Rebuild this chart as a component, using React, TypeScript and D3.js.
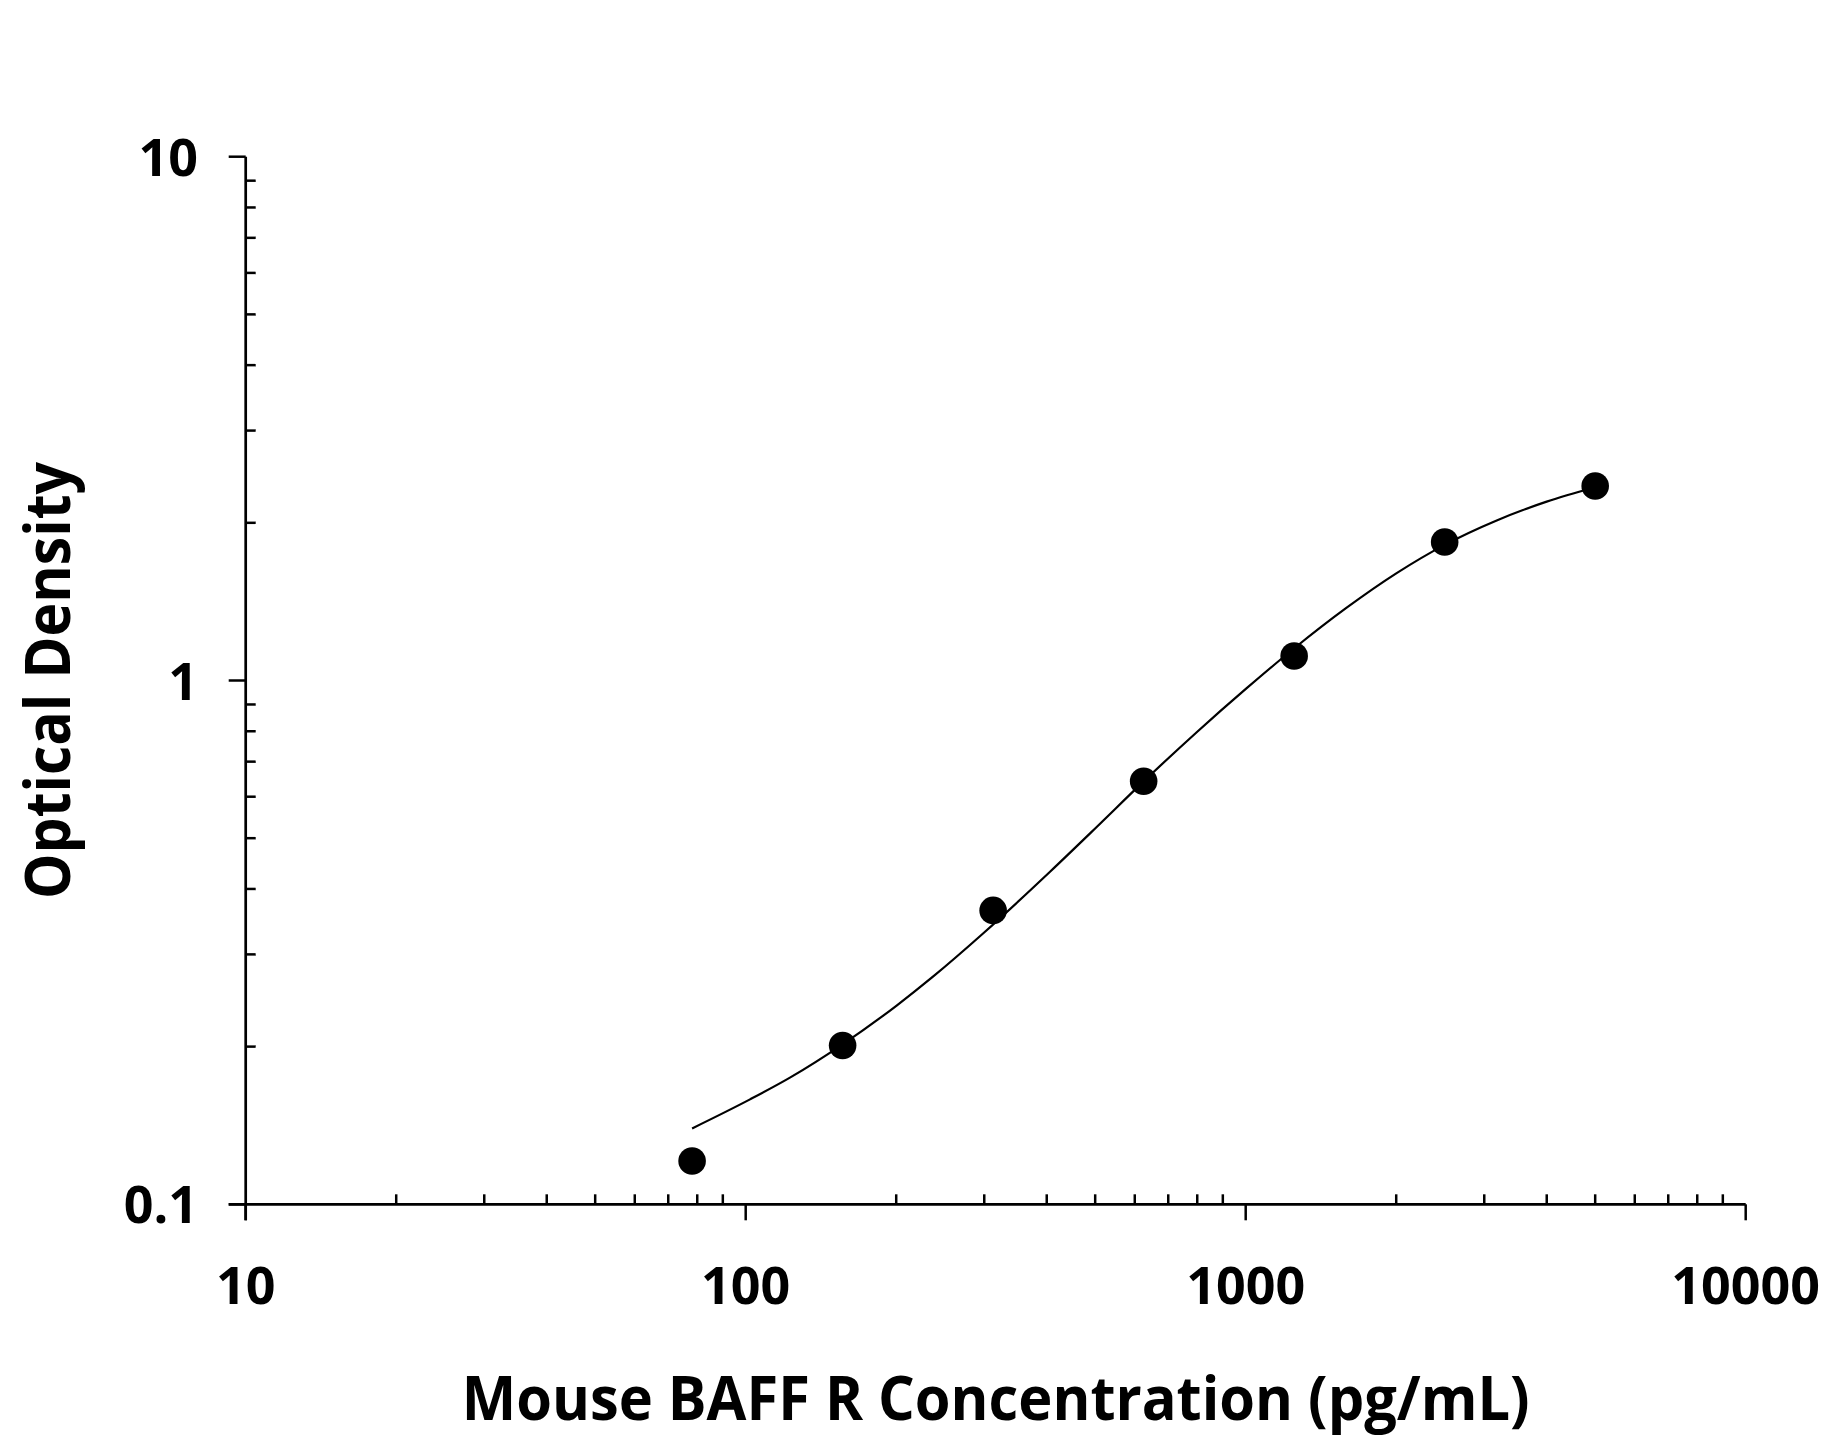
import React from "react";
import * as d3 from "d3";

const concentrations = [78.125, 156.25, 312.5, 625, 1250, 2500, 5000];
const odValues = [0.121, 0.201, 0.364, 0.642, 1.114, 1.838, 2.351];

const curveConc = [78.125, 102, 122.6, 156.25, 200.4, 237.2, 298.7, 406.1, 503.5, 625, 798, 1004.6, 1249, 1592, 2004, 2500, 3177, 3999, 5000];
const curveOD = [0.1396, 0.1586, 0.1745, 0.202, 0.2396, 0.2723, 0.3292, 0.4314, 0.5252, 0.6417, 0.7967, 0.9667, 1.151, 1.377, 1.603, 1.815, 2.021, 2.195, 2.338];

const xMajorTicks = [10, 100, 1000, 10000];
const xTickLabels = ["10", "100", "1000", "10000"];
const yMajorTicks = [0.1, 1, 10];
const yTickLabels = ["0.1", "1", "10"];
const minorMultipliers = [2, 3, 4, 5, 6, 7, 8, 9];

const xTitle = "Mouse BAFF R Concentration (pg/mL)";
const yTitle = "Optical Density";

const W = 1827;
const H = 1444;
const X0 = 245.7;
const X1 = 1745.7;
const Y0 = 1204.3;
const Y1 = 156.7;
const FONT = "'Open Sans', 'Noto Sans', sans-serif";

export default function App() {
  const x = d3.scaleLog().domain([10, 10000]).range([X0, X1]);
  const y = d3.scaleLog().domain([0.1, 10]).range([Y0, Y1]);

  const xMinor: number[] = [];
  [10, 100, 1000].forEach((b) => minorMultipliers.forEach((m) => xMinor.push(b * m)));
  const yMinor: number[] = [];
  [0.1, 1].forEach((b) => minorMultipliers.forEach((m) => yMinor.push(b * m)));

  const line = d3
    .line<number>()
    .x((_, i) => x(curveConc[i]))
    .y((d) => y(d))
    .curve(d3.curveMonotoneX);

  const axisW = 2.7;
  const tickW = 2.5;

  return (
    <svg
      width={W}
      height={H}
      style={{ position: "absolute", left: 0, top: 0, background: "#fff" }}
      fontFamily={FONT}
    >
      <rect x={0} y={0} width={W} height={H} fill="#fff" />
      {/* axes */}
      <line x1={X0} y1={Y0 + 16} x2={X0} y2={Y1} stroke="#000" strokeWidth={axisW} />
      <line x1={X0 - 17} y1={Y0} x2={X1} y2={Y0} stroke="#000" strokeWidth={axisW} />
      {/* x ticks */}
      {xMajorTicks.map((t) => (
        <line key={"xm" + t} x1={x(t)} x2={x(t)} y1={Y0} y2={Y0 + 16} stroke="#000" strokeWidth={tickW} />
      ))}
      {xMinor.map((t) => (
        <line key={"xn" + t} x1={x(t)} x2={x(t)} y1={Y0} y2={Y0 - 10} stroke="#000" strokeWidth={tickW} />
      ))}
      {/* y ticks */}
      {yMajorTicks.map((t) => (
        <line key={"ym" + t} x1={X0} x2={X0 - 17} y1={y(t)} y2={y(t)} stroke="#000" strokeWidth={tickW} />
      ))}
      {yMinor.map((t) => (
        <line key={"yn" + t} x1={X0} x2={X0 + 10} y1={y(t)} y2={y(t)} stroke="#000" strokeWidth={tickW} />
      ))}
      {/* tick labels */}
      {xMajorTicks.map((t, i) => (
        <text key={"xl" + t} x={x(t)} y={1304} textAnchor="middle" fontSize={52} fontWeight={700} fill="#000">
          {xTickLabels[i]}
        </text>
      ))}
      {yMajorTicks.map((t, i) => (
        <text key={"yl" + t} x={198} y={y(t) + 19} textAnchor="end" fontSize={52} fontWeight={700} fill="#000">
          {yTickLabels[i]}
        </text>
      ))}
      {/* titles */}
      <text
        x={(X0 + X1) / 2}
        y={1420}
        textAnchor="middle"
        fontSize={60}
        fontWeight={700}
        fill="#000"
        textLength={1068}
        lengthAdjust="spacingAndGlyphs"
      >
        {xTitle}
      </text>
      <text
        transform={`translate(70, ${(Y0 + Y1) / 2}) rotate(-90)`}
        x={0}
        y={0}
        textAnchor="middle"
        fontSize={62}
        fontWeight={700}
        fill="#000"
        textLength={437}
        lengthAdjust="spacingAndGlyphs"
      >
        {yTitle}
      </text>
      {/* fitted curve */}
      <path d={line(curveOD) || ""} fill="none" stroke="#000" strokeWidth={2.2} />
      {/* points */}
      {concentrations.map((c, i) => (
        <circle key={"p" + i} cx={x(c)} cy={y(odValues[i])} r={13.8} fill="#000" />
      ))}
    </svg>
  );
}
